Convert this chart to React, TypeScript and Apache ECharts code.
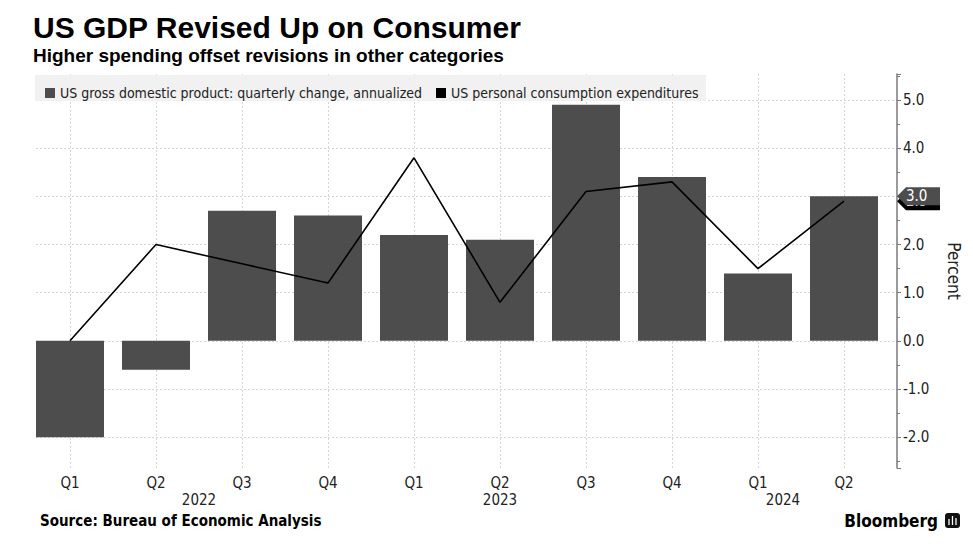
import React, { useEffect, useRef } from "react";
import * as echarts from "echarts";

const categories = ["Q1", "Q2", "Q3", "Q4", "Q1", "Q2", "Q3", "Q4", "Q1", "Q2"];
const gdpValues = [-2.0, -0.6, 2.7, 2.6, 2.2, 2.1, 4.9, 3.4, 1.4, 3.0];
const pceValues = [0.0, 2.0, 1.6, 1.2, 3.8, 0.8, 3.1, 3.3, 1.5, 2.9];
const yearLabels = ["2022", "2023", "2024"];
const yearX = [199, 500, 783];
const seriesNames = [
  "US gross domestic product: quarterly change, annualized",
  "US personal consumption expenditures",
];

const Y_MIN = -2.64;
const Y_MAX = 5.54;
const NARROW = '"Liberation Sans Narrow", "DejaVu Sans Condensed", "Roboto Condensed", "Liberation Sans", sans-serif';
const BOLD = '"Liberation Sans", Arial, sans-serif';

export default function App() {
  const ref = useRef<HTMLDivElement>(null);
  useEffect(() => {
    if (!ref.current) return;
    const chart = echarts.init(ref.current, undefined, { renderer: "svg" });
    const option: any = {
      animation: false,
      backgroundColor: "#ffffff",
      title: {
        text: "US GDP Revised Up on Consumer",
        subtext: "Higher spending offset revisions in other categories",
        left: 28,
        top: 7,
        itemGap: 4,
        textStyle: { fontFamily: BOLD, fontSize: 30, fontWeight: "bold", color: "#000" },
        subtextStyle: { fontFamily: BOLD, fontSize: 19, fontWeight: "bold", color: "#000" },
      },
      legend: {
        left: 40,
        top: 81,
        z: 10,
        icon: "rect",
        itemWidth: 10,
        itemHeight: 10,
        itemGap: 14,
        textStyle: { fontFamily: NARROW, fontSize: 14, color: "#222" },
        data: seriesNames,
      },
      grid: [
        { left: 70, right: 129, top: 74, bottom: 88 },
        { left: 36, right: 76, top: 74, bottom: 88 },
      ],
      xAxis: [
        {
          type: "category",
          gridIndex: 0,
          data: categories,
          boundaryGap: false,
          axisLine: { show: false },
          axisTick: { show: false },
          axisLabel: { fontFamily: NARROW, fontSize: 15, color: "#222", margin: 7 },
          splitLine: { show: true, lineStyle: { color: "#d6d6d6", type: [2, 2], width: 1 } },
        },
        { type: "value", gridIndex: 1, min: 0, max: 1, show: false },
      ],
      yAxis: [
        { type: "value", gridIndex: 0, min: Y_MIN, max: Y_MAX, show: false, splitLine: { show: false } },
        {
          type: "value",
          gridIndex: 1,
          min: Y_MIN,
          max: Y_MAX,
          splitNumber: 8,
          position: "right",
          name: "Percent",
          nameLocation: "middle",
          nameRotate: -90,
          nameGap: 48,
          nameTextStyle: { fontFamily: NARROW, fontSize: 17, color: "#222" },
          axisLine: { show: true, onZero: false, lineStyle: { color: "#7a7a7a", width: 1.5 } },
          axisTick: { show: true, length: 4, lineStyle: { color: "#7a7a7a" } },
          minorTick: { show: true, splitNumber: 2, length: 3, lineStyle: { color: "#7a7a7a" } },
          axisLabel: {
            fontFamily: NARROW,
            fontSize: 15,
            color: "#222",
            margin: 6,
            showMinLabel: false,
            showMaxLabel: false,
            formatter: (v: number) => v.toFixed(1),
          },
          splitLine: {
            show: true,
            showMinLine: false,
            showMaxLine: false,
            lineStyle: { color: "#d6d6d6", type: [2, 2], width: 1 },
          },
        },
      ],
      series: [
        {
          name: seriesNames[0],
          type: "bar",
          xAxisIndex: 0,
          yAxisIndex: 0,
          data: gdpValues,
          barWidth: 68,
          clip: false,
          itemStyle: { color: "#4d4d4d" },
        },
        {
          name: seriesNames[1],
          type: "line",
          xAxisIndex: 0,
          yAxisIndex: 0,
          data: pceValues,
          symbol: "none",
          clip: false,
          itemStyle: { color: "#000" },
          lineStyle: { color: "#000", width: 1.6 },
        },
      ],
    };
    chart.setOption(option);

    const lastIdx = gdpValues.length - 1;
    const yG = chart.convertToPixel({ yAxisIndex: 0 } as any, gdpValues[lastIdx]) as number;
    const yP = chart.convertToPixel({ yAxisIndex: 0 } as any, pceValues[lastIdx]) as number;
    const tag = (y: number, fill: string, txt: string, z: number) => [
      {
        type: "polygon",
        z,
        shape: { points: [[897, y], [906, y - 9], [940, y - 9], [940, y + 9], [906, y + 9]] },
        style: { fill },
      },
      {
        type: "text",
        z: z + 1,
        x: 906,
        y,
        style: { text: txt, fill: "#fff", font: `15px ${NARROW}`, textVerticalAlign: "middle" },
      },
    ];

    chart.setOption({
      graphic: [
        { type: "rect", z: 0, shape: { x: 35, y: 75, width: 671, height: 26 }, style: { fill: "#f1f1f1" } },
        ...yearLabels.map((t, i) => ({
          type: "text",
          x: yearX[i],
          y: 500,
          style: { text: t, fill: "#222", font: `15px ${NARROW}`, textAlign: "center", textVerticalAlign: "middle" },
        })),
        ...tag(yP, "#000000", pceValues[lastIdx].toFixed(1), 20),
        ...tag(yG, "#4d4d4d", gdpValues[lastIdx].toFixed(1), 22),
        {
          type: "text",
          x: 40,
          y: 521,
          style: {
            text: "Source: Bureau of Economic Analysis",
            fill: "#000",
            font: `bold 15px ${NARROW}`,
            textVerticalAlign: "middle",
          },
        },
        {
          type: "text",
          x: 938,
          y: 521,
          style: {
            text: "Bloomberg",
            fill: "#000",
            font: `bold 17px ${NARROW}`,
            textAlign: "right",
            textVerticalAlign: "middle",
          },
        },
        { type: "rect", shape: { x: 945, y: 513, width: 15, height: 15, r: 3 }, style: { fill: "#111" } },
        { type: "line", shape: { x1: 949, y1: 519, x2: 949, y2: 525 }, style: { stroke: "#fff", lineWidth: 1.3 } },
        { type: "line", shape: { x1: 952.5, y1: 516, x2: 952.5, y2: 525 }, style: { stroke: "#fff", lineWidth: 1.3 } },
        { type: "line", shape: { x1: 956, y1: 518, x2: 956, y2: 525 }, style: { stroke: "#fff", lineWidth: 1.3 } },
      ],
    });

    return () => chart.dispose();
  }, []);
  return (
    <div
      ref={ref}
      style={{ position: "fixed", left: 0, top: 0, width: 973, height: 556 }}
    />
  );
}
